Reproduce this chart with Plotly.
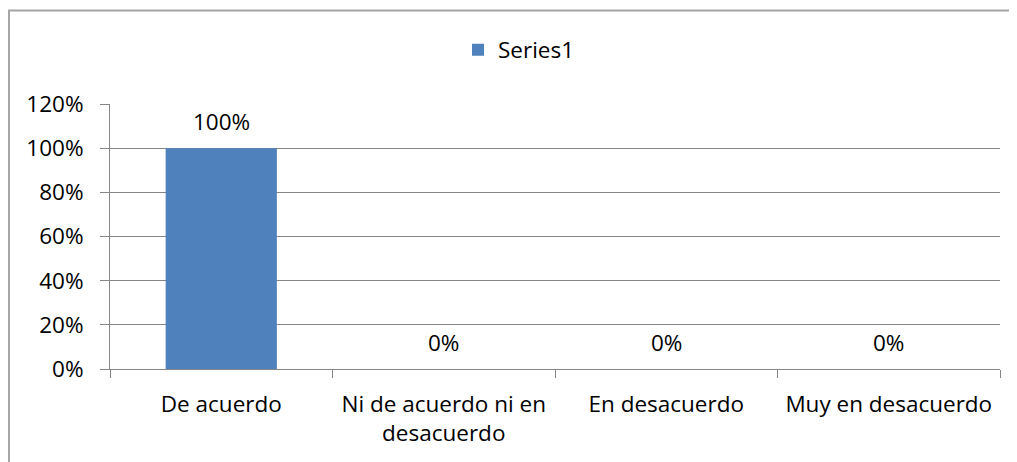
import plotly.graph_objects as go

categories = ["De acuerdo", "Ni de acuerdo ni en<br>desacuerdo", "En desacuerdo", "Muy en desacuerdo"]
values = [1.0, 0.0, 0.0, 0.0]
labels = ["100%", "0%", "0%", "0%"]
series_name = "Series1"
y_ticks = [0, 0.2, 0.4, 0.6, 0.8, 1.0, 1.2]

# page body has an 8px margin; work in figure coordinates
OFF = 8
W, H = 1017 - OFF, 462 - OFF
L, R, T, B = 110 - OFF, 1000 - OFF, 104 - OFF, 369 - OFF
FONT = "Open Sans"
FS = 22.5
GRID = "#868686"

fig = go.Figure()
fig.add_trace(go.Bar(x=categories, y=values, name=series_name,
                     marker=dict(color="#4F81BD", line=dict(width=0)),
                     showlegend=True))

for c, v, t in zip(categories, values, labels):
    fig.add_annotation(x=c, y=v, text=t, showarrow=False, yshift=27,
                       font=dict(family=FONT, size=FS, color="black"))

def px_x(p):
    return (p - OFF - L) / (R - L)

def px_y(p):
    return (B - (p - OFF)) / (B - T)

# outer chart border (left and top visible)
fig.add_shape(type="path", xref="paper", yref="paper",
              path=f"M {px_x(9)} {px_y(520)} L {px_x(9)} {px_y(10.5)} L {px_x(1100)} {px_y(10.5)}",
              line=dict(color="#A6A6A6", width=2))

fig.update_layout(
    width=W, height=H,
    margin=dict(l=L, r=W - R, t=T, b=H - B, pad=0),
    paper_bgcolor="white", plot_bgcolor="white",
    bargap=0.5,
    font=dict(family=FONT, size=FS, color="black"),
    legend=dict(orientation="h", x=px_x(458), y=px_y(50), xanchor="left", yanchor="middle",
                font=dict(family=FONT, size=FS, color="black"), bgcolor="rgba(0,0,0,0)"),
    xaxis=dict(showgrid=False, showline=True, linecolor=GRID, linewidth=1,
               ticks="outside", tickson="boundaries", ticklen=8, tickcolor=GRID,
               tickfont=dict(family=FONT, size=FS, color="black"), ticklabelstandoff=15),
    yaxis=dict(range=[0, 1.2], tickvals=y_ticks, tickformat=".0%",
               showgrid=True, gridcolor=GRID, gridwidth=1,
               showline=True, linecolor=GRID, linewidth=1,
               ticks="outside", ticklen=9, tickcolor=GRID, zeroline=False,
               tickfont=dict(family=FONT, size=FS, color="black"), ticklabelstandoff=12),
)

fig.write_html("out.html")
